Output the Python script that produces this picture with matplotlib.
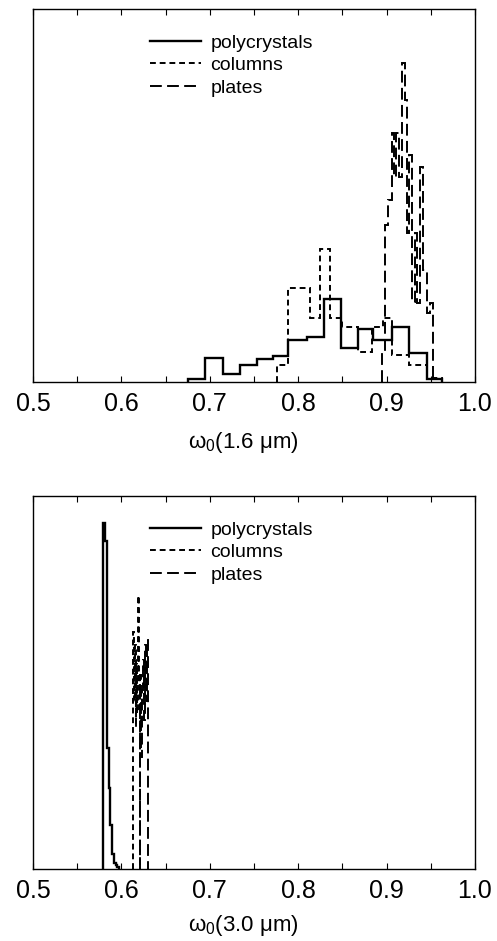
import numpy as np
import matplotlib
matplotlib.use("Agg")
import matplotlib.pyplot as plt
from matplotlib.ticker import MultipleLocator

plt.rcParams['font.family'] = ['Liberation Sans', 'DejaVu Sans']
plt.rcParams['mathtext.fontset'] = 'custom'
plt.rcParams['mathtext.rm'] = 'Liberation Sans'
plt.rcParams['mathtext.it'] = 'Liberation Sans'
plt.rcParams['lines.scale_dashes'] = False

labels = ['polycrystals', 'columns', 'plates']

# --- 1.6 um panel (bin edges, relative frequency) ---
poly16_edges = [0.6753, 0.6946, 0.7146, 0.7342, 0.7531, 0.7718, 0.7888, 0.8096,
                0.8295, 0.8484, 0.8680, 0.8850, 0.9058, 0.9257, 0.9454, 0.9623]
poly16_vals = [0.007, 0.065, 0.021, 0.046, 0.062, 0.070, 0.113, 0.120,
               0.222, 0.090, 0.141, 0.114, 0.148, 0.077, 0.007]

col16_edges = [0.7757, 0.7888, 0.8133, 0.8247, 0.8360, 0.8492, 0.8680, 0.8831,
               0.8963, 0.9061, 0.9253, 0.9454, 0.9623]
col16_vals = [0.046, 0.253, 0.171, 0.356, 0.171, 0.148, 0.081, 0.147,
              0.171, 0.072, 0.046, 0.011]

pla16_edges = [0.8945, 0.8982, 0.9016, 0.9058, 0.9084, 0.9112, 0.9140, 0.9171,
               0.9203, 0.9227, 0.9259, 0.9287, 0.9316, 0.9344, 0.9378, 0.9412,
               0.9454, 0.9491, 0.9525]
pla16_vals = [0.080, 0.420, 0.488, 0.668, 0.550, 0.668, 0.550, 0.855,
              0.756, 0.400, 0.610, 0.215, 0.400, 0.212, 0.577, 0.300,
              0.185, 0.212]

# --- 3.0 um panel ---
poly30_edges = [0.5795, 0.5815, 0.5835, 0.5855, 0.5875, 0.5895, 0.5915, 0.5935,
                0.5955, 0.5975]
poly30_vals = [0.928, 0.880, 0.325, 0.218, 0.120, 0.040, 0.017, 0.012, 0.005]

col30_edges = [0.6131, 0.6140, 0.6150, 0.6160, 0.6170, 0.6180, 0.6188, 0.6196,
               0.6207]
col30_vals = [0.637, 0.450, 0.600, 0.380, 0.550, 0.420, 0.731, 0.500]

pla30_edges = [0.6205, 0.6216, 0.6227, 0.6238, 0.6249, 0.6260, 0.6271, 0.6282,
               0.6293, 0.6305]
pla30_vals = [0.350, 0.520, 0.300, 0.480, 0.560, 0.400, 0.600, 0.450, 0.615]

xlabels = [r'ω$_0$(1.6 μm)', r'ω$_0$(3.0 μm)']
labelpads = [10, 7]

styles = [dict(color='black', lw=1.7, ls='-'),
          dict(color='black', lw=1.4, ls=(0, (4.2, 2.8))),
          dict(color='black', lw=1.4, ls=(0, (8.5, 3.8)))]

panels = [
    [(poly16_edges, poly16_vals), (col16_edges, col16_vals), (pla16_edges, pla16_vals)],
    [(poly30_edges, poly30_vals), (col30_edges, col30_vals), (pla30_edges, pla30_vals)],
]

fig = plt.figure(figsize=(4.97, 9.41), dpi=100)
axes = [fig.add_axes([0.0664, 0.594, 0.8893, 0.3964]),
        fig.add_axes([0.0664, 0.0762, 0.8893, 0.3967])]

for ax, series, xl, lp in zip(axes, panels, xlabels, labelpads):
    for (edges, vals), st, lab in zip(series, styles, labels):
        ax.stairs(vals, edges, baseline=0, label=lab, **st)
    ax.set_xlim(0.5, 1.0)
    ax.set_ylim(0, 1.0)
    ax.xaxis.set_major_locator(MultipleLocator(0.1))
    ax.xaxis.set_minor_locator(MultipleLocator(0.05))
    ax.set_xticklabels([f'{v:.1f}' for v in ax.get_xticks()])
    ax.tick_params(axis='x', which='both', direction='in', top=True, length=4,
                   width=0.8, labelsize=18, pad=7)
    ax.set_yticks([])
    for sp in ax.spines.values():
        sp.set_linewidth(1.0)
    ax.set_xlabel(xl, fontsize=16, labelpad=lp, x=0.475)
    leg = ax.legend(loc='upper left', bbox_to_anchor=(0.265, 0.933), frameon=False,
                    fontsize=14, handlelength=2.6, handletextpad=0.5,
                    labelspacing=0.25, borderpad=0, borderaxespad=0)

fig.savefig('out.png', dpi=100)
